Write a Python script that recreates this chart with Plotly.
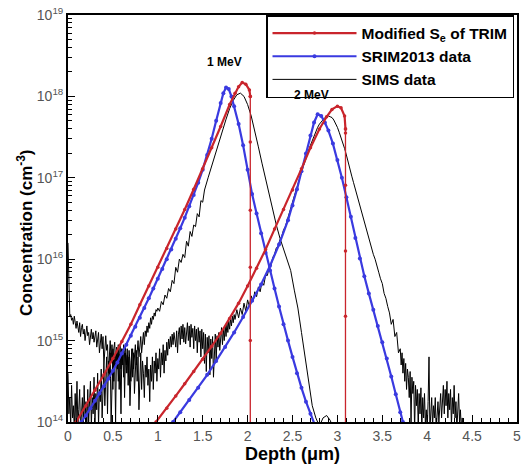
import numpy as np
import plotly.graph_objects as go

# ---------------- data (log10 of concentration, cm^-3) ----------------
# Modified Se of TRIM, 1 MeV (profile, then the abrupt cut-off)
red1_depth = [0.09, 0.20, 0.30, 0.40, 0.50, 0.60, 0.70, 0.80, 0.90, 1.00, 1.10, 1.20, 1.30,
              1.40, 1.50, 1.60, 1.70, 1.80, 1.86, 1.90, 1.94, 1.98, 2.02, 2.03]
red1_log = [14.00, 14.20, 14.39, 14.58, 14.78, 14.99, 15.20, 15.44, 15.67, 15.90, 16.13, 16.37,
            16.61, 16.86, 17.11, 17.37, 17.63, 17.90, 18.04, 18.12, 18.17, 18.15, 18.08, 18.00]
red1_drop_depth = [2.03, 2.03, 2.03, 2.03, 2.03, 2.03]
red1_drop_log = [18.00, 17.44, 16.60, 15.90, 15.00, 13.90]
# Modified Se of TRIM, 2 MeV
red2_depth = [0.98, 1.10, 1.20, 1.30, 1.40, 1.50, 1.60, 1.70, 1.80, 1.90, 2.00, 2.10, 2.20,
              2.30, 2.40, 2.50, 2.60, 2.70, 2.80, 2.88, 2.94, 3.00, 3.04, 3.08, 3.09]
red2_log = [14.00, 14.17, 14.32, 14.47, 14.62, 14.77, 14.93, 15.09, 15.27, 15.46, 15.67, 15.89,
            16.12, 16.37, 16.61, 16.85, 17.11, 17.37, 17.60, 17.75, 17.84, 17.88, 17.86, 17.76,
            17.60]
red2_drop_depth = [3.09, 3.09, 3.09, 3.09, 3.09, 3.09]
red2_drop_log = [17.60, 17.55, 16.91, 16.10, 15.30, 13.90]

# SRIM2013, 1 MeV
blue1_depth = [0.15, 0.20, 0.25, 0.30, 0.35, 0.40, 0.45, 0.50, 0.55, 0.60, 0.65, 0.70, 0.75,
               0.80, 0.85, 0.90, 0.95, 1.00, 1.05, 1.10, 1.15, 1.20, 1.25, 1.30, 1.35, 1.40,
               1.45, 1.50, 1.55, 1.60, 1.65, 1.70, 1.73, 1.76, 1.79, 1.82, 1.85, 1.90, 1.95,
               2.00, 2.05, 2.10, 2.15, 2.20, 2.25, 2.30, 2.35, 2.40, 2.45, 2.50, 2.55, 2.60,
               2.65, 2.70, 2.75]
blue1_log = [14.00, 14.08, 14.17, 14.26, 14.35, 14.44, 14.53, 14.63, 14.73, 14.84, 14.95, 15.06,
             15.17, 15.28, 15.40, 15.52, 15.64, 15.76, 15.88, 16.00, 16.12, 16.25, 16.38, 16.51,
             16.65, 16.79, 16.94, 17.10, 17.28, 17.48, 17.70, 17.92, 18.04, 18.11, 18.09, 18.00,
             17.88, 17.66, 17.40, 17.10, 16.80, 16.56, 16.32, 16.08, 15.86, 15.64, 15.42, 15.20,
             15.00, 14.80, 14.60, 14.42, 14.25, 14.10, 13.96]
# SRIM2013, 2 MeV
blue2_depth = [1.17, 1.25, 1.35, 1.45, 1.55, 1.65, 1.75, 1.85, 1.95, 2.05, 2.15, 2.25, 2.35,
               2.45, 2.50, 2.55, 2.60, 2.65, 2.70, 2.74, 2.78, 2.82, 2.86, 2.90, 2.95, 3.00,
               3.05, 3.10, 3.15, 3.20, 3.25, 3.30, 3.35, 3.40, 3.45, 3.50, 3.55, 3.60, 3.65,
               3.70, 3.73]
blue2_log = [14.00, 14.12, 14.27, 14.42, 14.58, 14.75, 14.92, 15.10, 15.29, 15.49, 15.69, 15.92,
             16.18, 16.48, 16.66, 16.86, 17.08, 17.30, 17.52, 17.68, 17.78, 17.76, 17.68, 17.58,
             17.42, 17.22, 17.00, 16.76, 16.52, 16.26, 16.01, 15.79, 15.58, 15.38, 15.18, 14.98,
             14.78, 14.56, 14.34, 14.12, 14.00]

# SIMS, 1 MeV: near-surface background sampled every 0.01 um from 0.00 to 0.99
sims1_bg_log = [16.20, 15.45, 15.30, 15.32, 15.25, 15.28, 15.20, 15.30, 15.22, 15.15,
                15.24, 15.18, 15.10, 15.22, 15.05, 15.16, 15.20, 15.08, 15.14, 15.00,
                15.12, 15.18, 15.06, 15.10, 14.95, 15.08, 15.14, 15.02, 15.10, 14.98,
                15.06, 15.12, 14.92, 15.04, 15.10, 14.85, 15.02, 15.08, 14.90, 15.05,
                14.70, 14.98, 15.06, 14.88, 14.95, 14.60, 14.92, 15.00, 14.75, 14.95,
                14.40, 14.90, 14.98, 14.70, 14.92, 14.85, 14.50, 14.88, 14.95, 14.65,
                14.90, 14.80, 14.55, 14.85, 14.92, 14.70, 14.82, 14.60, 14.88, 14.75,
                14.50, 14.80, 14.90, 14.65, 14.85, 14.95, 14.70, 14.88, 15.00, 14.80,
                14.95, 15.05, 14.85, 15.00, 15.10, 14.95, 15.12, 15.05, 15.18, 15.10,
                15.22, 15.15, 15.28, 15.20, 15.30, 15.26, 15.34, 15.30, 15.38, 15.36]
sims1_pk_depth = [1.00, 1.02, 1.04, 1.06, 1.08, 1.10, 1.12, 1.14, 1.16, 1.18, 1.20, 1.22, 1.24,
                  1.26, 1.28, 1.30, 1.32, 1.34, 1.36, 1.38, 1.40, 1.42, 1.44, 1.46, 1.48, 1.50,
                  1.52, 1.56, 1.60, 1.64, 1.68, 1.72, 1.76, 1.80, 1.84, 1.88, 1.92, 1.96, 2.00,
                  2.04, 2.08, 2.12, 2.16, 2.20, 2.24, 2.28, 2.32, 2.36, 2.40, 2.44, 2.48, 2.52,
                  2.56, 2.60, 2.64, 2.68, 2.72, 2.76, 2.80, 2.84, 2.88, 2.92, 2.96]
sims1_pk_log = [15.40, 15.36, 15.48, 15.44, 15.56, 15.52, 15.64, 15.60, 15.74, 15.70, 15.90,
                15.84, 16.00, 15.96, 16.06, 16.02, 16.22, 16.16, 16.34, 16.28, 16.42, 16.40,
                16.56, 16.52, 16.72, 16.70, 16.85, 17.00, 17.15, 17.30, 17.45, 17.58, 17.72,
                17.85, 17.95, 18.02, 18.04, 18.00, 17.90, 17.76, 17.58, 17.38, 17.18, 16.98,
                16.78, 16.60, 16.42, 16.26, 16.12, 16.00, 15.86, 15.62, 15.40, 15.10, 14.78,
                14.50, 14.20, 14.05, 13.95, 14.05, 14.08, 14.02, 13.90]

# SIMS, 2 MeV: background sampled every 0.01 um from 0.00 to 1.85
sims2_bg_log = [14.60, 14.10, 14.30, 13.95, 14.45, 14.05, 14.20, 13.90, 14.35, 14.00,
                14.50, 13.95, 14.15, 14.40, 13.90, 14.10, 14.30, 13.95, 14.45, 14.05,
                14.25, 13.90, 14.40, 14.00, 14.20, 14.50, 13.95, 14.30, 14.10, 14.55,
                14.00, 14.35, 14.15, 14.60, 13.95, 14.40, 14.25, 14.65, 14.05, 14.50,
                14.70, 14.20, 14.60, 14.80, 14.10, 14.75, 14.55, 14.85, 13.95, 14.70,
                14.90, 14.50, 14.80, 14.00, 14.85, 14.65, 14.95, 14.40, 14.80, 14.10,
                14.90, 14.70, 14.95, 14.30, 14.85, 14.60, 14.90, 14.45, 14.80, 14.20,
                14.75, 14.90, 14.55, 14.85, 14.35, 14.70, 14.88, 14.50, 14.80, 14.15,
                14.70, 14.85, 14.40, 14.75, 14.60, 14.30, 14.70, 14.55, 14.80, 14.45,
                14.65, 14.25, 14.70, 14.50, 14.80, 14.40, 14.75, 14.60, 14.85, 14.50,
                14.78, 14.65, 14.90, 14.55, 14.85, 14.70, 14.95, 14.60, 14.88, 14.75,
                14.98, 14.82, 15.02, 14.90, 15.05, 14.92, 15.08, 14.95, 15.10, 14.98,
                14.92, 15.12, 14.85, 15.08, 15.16, 14.95, 15.18, 15.02, 15.20, 14.98,
                15.16, 14.96, 15.14, 15.22, 15.00, 15.18, 14.92, 15.20, 15.04, 15.15,
                14.90, 15.18, 15.00, 15.14, 14.85, 15.16, 14.98, 15.12, 14.80, 15.14,
                14.90, 15.10, 14.72, 15.08, 14.62, 15.04, 14.85, 15.06, 14.58, 15.02,
                14.78, 15.05, 14.55, 15.00, 15.08, 14.75, 15.06, 14.92, 15.10, 14.88,
                15.08, 15.16, 14.95, 15.14, 15.00, 15.18, 15.05, 15.22, 15.10, 15.24,
                15.14, 15.27, 15.18, 15.30, 15.22, 15.32]
sims2_pk_depth = [1.86, 1.88, 1.90, 1.92, 1.94, 1.96, 1.98, 2.00, 2.02, 2.04, 2.06, 2.08, 2.10,
                  2.12, 2.14, 2.16, 2.18, 2.20, 2.22, 2.24, 2.26, 2.28, 2.30, 2.32, 2.34, 2.36,
                  2.38, 2.40, 2.42, 2.44, 2.46, 2.48, 2.50, 2.52, 2.54, 2.56, 2.58, 2.60, 2.62,
                  2.64, 2.66, 2.68, 2.70, 2.72, 2.74, 2.76, 2.78, 2.80, 2.82, 2.84, 2.86, 2.88,
                  2.90, 2.92, 2.94, 2.96, 2.98, 3.00, 3.02, 3.04, 3.06, 3.08, 3.10, 3.12, 3.14,
                  3.16, 3.18, 3.20, 3.22, 3.24, 3.26, 3.28, 3.30, 3.32, 3.34, 3.36, 3.38, 3.40,
                  3.42, 3.44, 3.46, 3.48, 3.50, 3.52, 3.54, 3.56, 3.58, 3.60, 3.62, 3.64, 3.66,
                  3.68, 3.70]
sims2_pk_log = [15.26, 15.38, 15.28, 15.40, 15.32, 15.46, 15.36, 15.50, 15.42, 15.55, 15.48,
                15.60, 15.54, 15.66, 15.60, 15.72, 15.68, 15.80, 15.80, 15.90, 15.92, 16.02,
                16.06, 16.14, 16.16, 16.24, 16.28, 16.36, 16.40, 16.48, 16.56, 16.62, 16.70,
                16.78, 16.85, 16.92, 17.00, 17.06, 17.14, 17.20, 17.28, 17.34, 17.40, 17.46,
                17.52, 17.57, 17.62, 17.66, 17.69, 17.72, 17.74, 17.75, 17.76, 17.75, 17.74,
                17.71, 17.67, 17.62, 17.56, 17.50, 17.44, 17.36, 17.28, 17.18, 17.10, 17.02,
                16.94, 16.86, 16.76, 16.70, 16.60, 16.54, 16.44, 16.36, 16.30, 16.20, 16.14,
                16.06, 16.00, 15.90, 15.84, 15.76, 15.70, 15.58, 15.52, 15.42, 15.34, 15.20,
                15.26, 15.05, 15.10, 14.85, 14.90]
# SIMS, 2 MeV: deep tail sampled every 0.01 um from 3.71 to 4.40
sims2_tail_log = [14.70, 14.85, 14.60, 14.78, 14.50, 14.72, 14.40, 14.65, 14.55, 14.30,
                  14.62, 14.00, 14.55, 14.35, 14.50, 13.90, 14.45, 14.20, 14.40, 13.95,
                  14.35, 14.10, 14.42, 13.90, 14.30, 14.05, 14.35, 13.95, 14.15, 13.90,
                  14.25, 14.80, 13.90, 14.10, 14.30, 13.95, 14.20, 14.05, 14.30, 13.90,
                  14.15, 14.25, 14.00, 14.20, 14.35, 14.05, 14.30, 14.45, 14.10, 14.40,
                  14.20, 14.50, 14.05, 14.35, 14.15, 14.40, 13.95, 14.30, 14.10, 14.45,
                  14.05, 14.25, 13.90, 14.20, 14.35, 14.00, 14.15, 13.90, 14.05, 13.80]

x_tick_vals = [0, 0.5, 1, 1.5, 2, 2.5, 3, 3.5, 4, 4.5, 5]
x_tick_text = ["0", "0.5", "1", "1.5", "2", "2.5", "3", "3.5", "4", "4.5", "5"]
y_decades = [14, 15, 16, 17, 18, 19]
energy_labels = ["1 MeV", "2 MeV"]
energy_label_depth = [1.74, 2.71]
energy_label_log = [18.42, 18.02]

# ---------------- helpers ----------------
def conc(logs):
    return [10 ** v for v in logs]

def grid(start, n, step=0.01):
    return [round(start + i * step, 3) for i in range(n)]

sims1_depth = grid(0.0, len(sims1_bg_log)) + sims1_pk_depth
sims1_log = sims1_bg_log + sims1_pk_log
sims2_depth = grid(0.0, len(sims2_bg_log)) + sims2_pk_depth + grid(3.71, len(sims2_tail_log))
sims2_log = sims2_bg_log + sims2_pk_log + sims2_tail_log

RED = "#c9252c"
BLUE = "#3a3ae0"
FONT = "Liberation Sans, Arial, sans-serif"
RED_NAME = "Modified S<sub>e</sub> of TRIM"

fig = go.Figure()

fig.add_trace(go.Scatter(x=sims1_depth, y=conc(sims1_log), mode="lines",
                         line=dict(color="black", width=1), name="SIMS data",
                         legendrank=3, showlegend=True))
fig.add_trace(go.Scatter(x=sims2_depth, y=conc(sims2_log), mode="lines",
                         line=dict(color="black", width=1), name="SIMS data",
                         legendrank=3, showlegend=False))
fig.add_trace(go.Scatter(x=blue1_depth, y=conc(blue1_log), mode="lines+markers",
                         line=dict(color=BLUE, width=2.2), marker=dict(size=4, color=BLUE),
                         name="SRIM2013 data", legendrank=2))
fig.add_trace(go.Scatter(x=blue2_depth, y=conc(blue2_log), mode="lines+markers",
                         line=dict(color=BLUE, width=2.2), marker=dict(size=4, color=BLUE),
                         name="SRIM2013 data", legendrank=2, showlegend=False))
for dx, dy in [(red1_drop_depth, red1_drop_log), (red2_drop_depth, red2_drop_log)]:
    fig.add_trace(go.Scatter(x=dx, y=conc(dy), mode="lines+markers",
                             line=dict(color=RED, width=1.3), marker=dict(size=3.5, color=RED),
                             name=RED_NAME, showlegend=False))
fig.add_trace(go.Scatter(x=red1_depth, y=conc(red1_log), mode="lines+markers",
                         line=dict(color=RED, width=2.2), marker=dict(size=3.5, color=RED),
                         name=RED_NAME, legendrank=1))
fig.add_trace(go.Scatter(x=red2_depth, y=conc(red2_log), mode="lines+markers",
                         line=dict(color=RED, width=2.2), marker=dict(size=3.5, color=RED),
                         name=RED_NAME, legendrank=1, showlegend=False))

for txt, xd, yl in zip(energy_labels, energy_label_depth, energy_label_log):
    fig.add_annotation(x=xd, y=yl, text="<b>%s</b>" % txt, showarrow=False,
                       font=dict(family=FONT, size=12, color="black"))

fig.update_layout(
    width=526, height=465,
    margin=dict(l=68, r=9, t=15, b=43, autoexpand=False),
    paper_bgcolor="white", plot_bgcolor="white",
    font=dict(family=FONT, color="#444444"),
    showlegend=True,
    legend=dict(x=0.441, y=1.0, xanchor="left", yanchor="top",
                bordercolor="black", borderwidth=1.5, bgcolor="white",
                font=dict(family=FONT, size=15.5, color="black", weight="bold"),
                tracegroupgap=0, itemwidth=84),
)

fig.update_xaxes(range=[0, 5], tickvals=x_tick_vals, ticktext=x_tick_text,
                 ticks="inside", ticklen=7, tickwidth=1.2, tickcolor="black",
                 showline=True, linecolor="black", linewidth=1.8, mirror=True,
                 showgrid=False, zeroline=False, automargin=False,
                 tickfont=dict(family=FONT, size=14, color="#555555"),
                 minor=dict(ticks="inside", ticklen=4, dtick=0.1, tickcolor="black", showgrid=False),
                 title=dict(text="<b>Depth (μm)</b>", font=dict(family=FONT, size=18, color="black"),
                            standoff=0))

fig.update_yaxes(type="log", range=[14, 19],
                 tickvals=[10 ** d for d in y_decades],
                 ticktext=["10<sup>%d</sup>" % d for d in y_decades],
                 ticks="inside", ticklen=7, tickwidth=1.2, tickcolor="black",
                 showline=True, linecolor="black", linewidth=1.8, mirror=True,
                 showgrid=False, zeroline=False, automargin=False,
                 tickfont=dict(family=FONT, size=14, color="#555555"),
                 minor=dict(ticks="inside", ticklen=4, dtick="D1", tickcolor="black", showgrid=False),
                 title=dict(text="<b>Concentration (cm<sup>-3</sup>)</b>" + "&nbsp;" * 6,
                            font=dict(family=FONT, size=17, color="black"), standoff=0))

# remove the default 8 px page margin so the 526x465 figure fills the window exactly
fig.write_html("out.html", config={"displayModeBar": False},
               post_script="document.body.style.margin='0px';")
